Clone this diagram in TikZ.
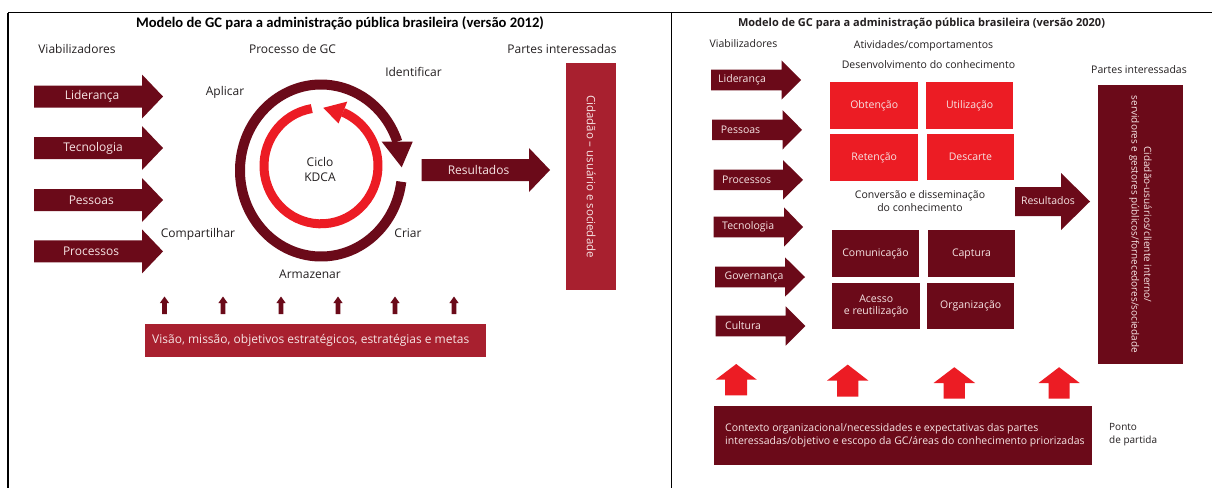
\documentclass[tikz,border=0pt]{standalone}
\usepackage{fontspec}
\setmainfont{Open Sans}
\newfontfamily\capfont{Carlito}
\usetikzlibrary{calc}

\definecolor{wine}{HTML}{6B0A19}
\definecolor{crimson}{HTML}{A8202F}
\definecolor{signal}{HTML}{EC1C24}
\definecolor{ink}{HTML}{231F20}
\definecolor{blush}{HTML}{F6E4E4}

% right-pointing block arrow: colour, left x, centre y, body half height, head base x, head half height, tip x
\newcommand\blockarrow[7]{%
  \fill[#1] (#2,#3-#4) -- (#5,#3-#4) -- (#5,#3-#6) -- (#7,#3) -- (#5,#3+#6)
    -- (#5,#3+#4) -- (#2,#3+#4) -- cycle;}
% upward block arrow: colour, centre x, tip y, head half width, head base y, shaft half width, bottom y
\newcommand\upblock[7]{%
  \fill[#1] (#2,#3) -- (#2+#4,#5) -- (#2+#6,#5) -- (#2+#6,#7) -- (#2-#6,#7)
    -- (#2-#6,#5) -- (#2-#4,#5) -- cycle;}

\begin{document}
\begin{tikzpicture}[x=1pt,y=-1pt,
  lbl/.style={text=ink, inner sep=0pt, font=\fontsize{12}{14}\selectfont},
  lblsm/.style={text=ink, inner sep=0pt, font=\fontsize{10.5}{12.5}\selectfont},
  onwine/.style={text=blush, inner sep=0pt, font=\fontsize{12}{14}\selectfont},
  onwinesm/.style={text=blush, inner sep=0pt, font=\fontsize{10.5}{12.5}\selectfont},
  tile/.style={anchor=north west, inner sep=0pt, text=blush,
    font=\fontsize{10.5}{12.5}\selectfont, align=center},
  redtile/.style={tile, fill=signal},
  winetile/.style={tile, fill=wine},
  frame/.style={line width=1.3pt, draw=black}]

\useasboundingbox (0,0) rectangle (1212,488);
\fill[white] (0,0) rectangle (1212,488);

% table rules
\draw[frame] (8,12.5) -- (1212,12.5);
\draw[frame] (8,12.5) -- (8,488);
\draw[frame] (671.7,12.5) -- (671.7,488);

%% ---------------- 2012 model ----------------
\node[inner sep=0pt, font=\capfont\bfseries\fontsize{14.6}{16}\selectfont] (title12) at (340,23)
  {Modelo de GC para a administração pública brasileira (versão 2012)};

\node[lbl] (enab12) at (77,49) {Viabilizadores};
\node[lbl] (proc12) at (292.5,49) {Processo de GC};
\node[lbl] (part12) at (562,49) {Partes interessadas};

% enablers
\blockarrow{wine}{34}{96.5}{11}{142}{22}{163}
\blockarrow{wine}{34}{148}{11}{142}{22}{163}
\blockarrow{wine}{34}{200}{11}{142}{22}{163}
\blockarrow{wine}{34}{251.4}{11}{142}{22}{163}
\node[onwine] (lid12) at (92,96.5) {Liderança};
\node[onwine] (tec12) at (93,148) {Tecnologia};
\node[onwine] (pes12) at (91.3,200) {Pessoas};
\node[onwine] (prs12) at (91,251.4) {Processos};

% KDCA cycle
\coordinate (dc) at (321,170.5);
\coordinate (rc) at (321,165.8);
\draw[wine, line width=10pt] ($(dc)+(7.5:81 and 86)$)
  arc[start angle=7.5, end angle=340.4, x radius=81, y radius=86];
\fill[wine] (381.7,141.7) -- (412.7,141.7) -- (401.7,167.3) -- cycle;
\draw[signal, line width=9pt] ($(rc)+(260.7:57 and 58)$)
  arc[start angle=260.7, end angle=-67.4, x radius=57, y radius=58];
\fill[signal] (347.3,101.6) -- (338.5,123.5) -- (323.3,107.8) -- cycle;

\node[lbl, align=center, font=\fontsize{12}{15}\selectfont] (kdca) at (320,169) {Ciclo\\KDCA};
\node[lbl] (ident) at (413.5,72) {Identificar};
\node[lbl] (apl) at (225,92) {Aplicar};
\node[lbl] (comp) at (198,234) {Compartilhar};
\node[lbl] (criar) at (408,233) {Criar};
\node[lbl] (arm) at (310,274) {Armazenar};

% results
\blockarrow{wine}{421.5}{170}{11}{529}{22}{550}
\node[onwine] (res12) at (478.5,170) {Resultados};

% stakeholders
\node[anchor=north west, fill=crimson, inner sep=0pt, minimum width=50pt,
  minimum height=227.5pt] (stake12) at (566,62.5) {};
\node[onwine, rotate=-90, font=\fontsize{11.5}{13}\selectfont] (stake12t) at (stake12.center)
  {Cidadão – usuário e sociedade};

% strategy base
\foreach \ax in {164.5,223,281,338,395,454}
  \upblock{wine}{\ax}{296.5}{4.6}{303}{2.3}{314}
\node[anchor=north west, fill=crimson, inner sep=0pt, minimum width=341pt,
  minimum height=33pt] (vision) at (145,323.5) {};
\node[onwine, anchor=west, font=\fontsize{12}{14}\selectfont] (visiont) at (152,340)
  {Visão, missão, objetivos estratégicos, estratégias e metas};

%% ---------------- 2020 model ----------------
\node[inner sep=0pt, text=ink, font=\bfseries\fontsize{11}{13}\selectfont] (title20) at (921.5,24)
  {Modelo de GC para a administração pública brasileira (versão 2020)};

\node[lblsm] (enab20) at (743.5,44) {Viabilizadores};
\node[lblsm] (act20) at (923.5,46) {Atividades/comportamentos};
\node[lblsm] (dev20) at (928.5,65) {Desenvolvimento do conhecimento};
\node[lblsm] (part20) at (1139,70) {Partes interessadas};

% enablers
\blockarrow{wine}{711}{80}{10.3}{781.5}{19.7}{801}
\blockarrow{wine}{712}{129.8}{10.3}{782.5}{19.7}{802}
\blockarrow{wine}{713.5}{179.8}{10.3}{783}{19.7}{803}
\blockarrow{wine}{713.5}{227}{10.3}{784}{19.7}{803}
\blockarrow{wine}{715}{277}{10.3}{785}{19.7}{805}
\blockarrow{wine}{715.6}{326}{10.3}{785.7}{19.7}{805.4}
\node[onwinesm, anchor=west] (lid20) at (718,80) {Liderança};
\node[onwinesm, anchor=west] (pes20) at (720.6,129.8) {Pessoas};
\node[onwinesm, anchor=west] (prs20) at (722,179.8) {Processos};
\node[onwinesm, anchor=west] (tec20) at (722,227) {Tecnologia};
\node[onwinesm, anchor=west] (gov20) at (724.4,277) {Governança};
\node[onwinesm, anchor=west] (cul20) at (725,326) {Cultura};

% knowledge development
\node[redtile, minimum width=88pt, minimum height=47pt] (obt) at (830,82) {Obtenção};
\node[redtile, minimum width=87pt, minimum height=47pt] (uti) at (926,82) {Utilização};
\node[redtile, minimum width=88pt, minimum height=47pt] (ret) at (830,134) {Retenção};
\node[redtile, minimum width=87.5pt, minimum height=46pt] (desc) at (926.5,134) {Descarte};

\node[lblsm, align=center] (conv20) at (920,201) {Conversão e disseminação\\do conhecimento};

% knowledge conversion
\node[winetile, minimum width=87.5pt, minimum height=47pt] (com) at (831.5,230) {Comunicação};
\node[winetile, minimum width=87.4pt, minimum height=47pt] (cap) at (927.6,230) {Captura};
\node[winetile, minimum width=88pt, minimum height=46pt] (ace) at (832,283) {Acesso\\e reutilização};
\node[winetile, minimum width=87pt, minimum height=46pt] (org) at (927,283) {Organização};

% results
\blockarrow{wine}{1015}{201.5}{14.5}{1061}{28.5}{1090}
\node[onwinesm] (res20) at (1048,201) {Resultados};

% stakeholders
\node[anchor=north west, fill=wine, inner sep=0pt, minimum width=85.4pt,
  minimum height=279.1pt] (stake20) at (1097.6,84.7) {};
\node[onwinesm, rotate=-90, align=center, font=\fontsize{10}{12.6}\selectfont] (stake20t) at (stake20.center)
  {Cidadão-usuários/cliente interno/\\servidores e gestores públicos/fornecedores/sociedade};

% starting point
\upblock{signal}{736.2}{364}{20.6}{379.7}{11}{395.3}
\upblock{signal}{847.7}{364.6}{20.7}{380.6}{10.6}{396.5}
\upblock{signal}{954.3}{367.2}{20.7}{383}{10.6}{398.7}
\upblock{signal}{1059.1}{367.2}{20.6}{383}{10.5}{398.7}
\node[anchor=north west, fill=wine, inner sep=0pt, minimum width=378pt,
  minimum height=58.9pt] (context) at (714,405.6) {};
\node[onwinesm, anchor=west, align=left, font=\fontsize{10.5}{13}\selectfont] (contextt) at (725,435.5)
  {Contexto organizacional/necessidades e expectativas das partes\\interessadas/objetivo e escopo da GC/áreas do conhecimento priorizadas};
\node[lblsm, anchor=west, align=left, font=\fontsize{10}{13}\selectfont] (start20) at (1109,434.5) {Ponto\\de partida};

\end{tikzpicture}
\end{document}
